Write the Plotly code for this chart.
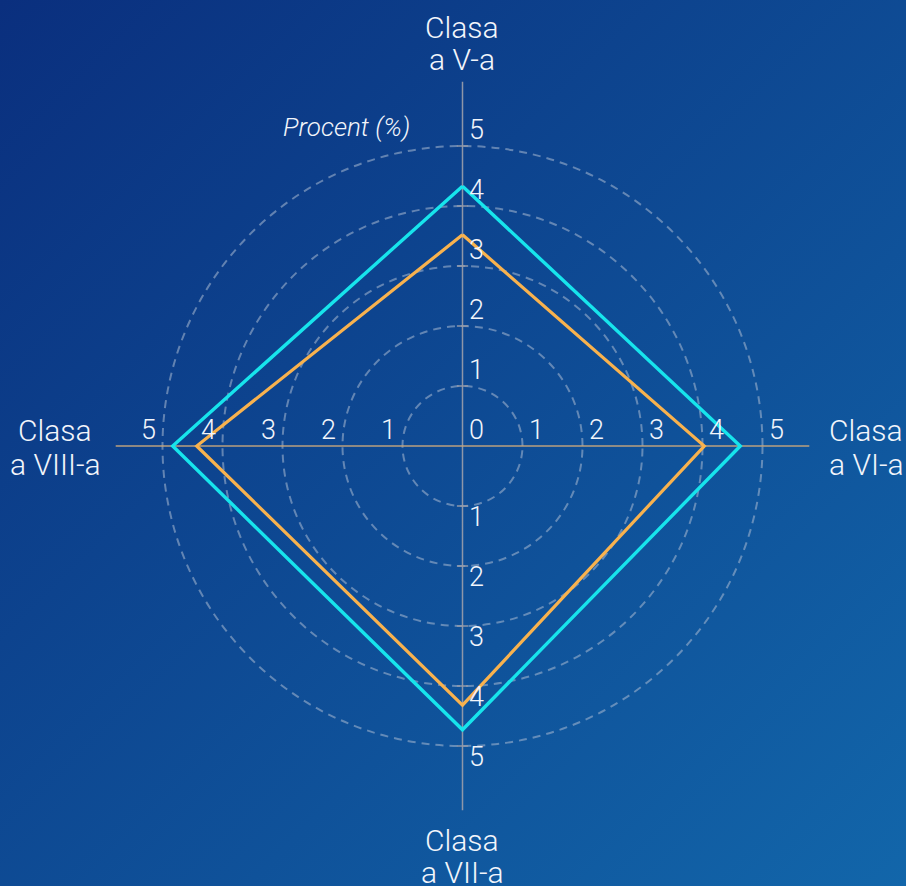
import base64
import plotly.graph_objects as go

# ---------------- data ----------------
categories = ["Clasa a V-a", "Clasa a VI-a", "Clasa a VII-a", "Clasa a VIII-a"]
cat_lines = [["Clasa", "a V-a"], ["Clasa", "a VI-a"], ["Clasa", "a VII-a"], ["Clasa", "a VIII-a"]]
cat_angles = [0, 90, 180, 270]
series_cyan = [4.33, 4.63, 4.73, 4.83]
series_orange = [3.52, 4.03, 4.32, 4.43]
tick_values = [1, 2, 3, 4, 5]
tick_labels = ["1", "2", "3", "4", "5"]

W, H = 906, 886
CX, CY = 462.5, 446.0
RPX = 366.0
RMAX = 6.1

FONT = "Roboto, 'Liberation Sans', Arial, sans-serif"
TXT = "#f2f5fb"
CYAN = "#17e4ec"
ORANGE = "#f8b24e"

fig = go.Figure()

# axis lines (vertical gray, horizontal tan)
fig.add_trace(go.Scatterpolar(r=[6.07, 0, 6.07], theta=[0, 0, 180], mode="lines",
                              line=dict(color="rgba(150,155,170,0.95)", width=1.5),
                              hoverinfo="skip", showlegend=False))
fig.add_trace(go.Scatterpolar(r=[5.78, 0, 5.78], theta=[90, 90, 270], mode="lines",
                              line=dict(color="rgba(196,165,125,0.95)", width=1.5),
                              hoverinfo="skip", showlegend=False))
# small ticks on vertical axis
fig.add_trace(go.Scatterpolar(r=tick_values + tick_values, theta=[0] * 5 + [180] * 5,
                              mode="markers",
                              marker=dict(symbol="line-ew", size=8,
                                          line=dict(color="rgba(150,155,170,0.95)", width=1.5)),
                              hoverinfo="skip", showlegend=False))

# series
def closed(v):
    return v + v[:1]

fig.add_trace(go.Scatterpolar(r=closed(series_cyan), theta=closed(cat_angles), mode="lines",
                              line=dict(color=CYAN, width=3.4), name="Seria 1",
                              showlegend=False))
fig.add_trace(go.Scatterpolar(r=closed(series_orange), theta=closed(cat_angles), mode="lines",
                              line=dict(color=ORANGE, width=3.2), name="Seria 2",
                              showlegend=False))

# tick labels along the four axes
tfont = dict(family=FONT, size=27, color=TXT, weight=300)
right_lbls = [" " + t for t in tick_labels]
left_lbls = [t + " " for t in tick_labels]
for ang, pos, lbls in [(0, "top right", right_lbls), (90, "top right", right_lbls),
                       (180, "bottom right", right_lbls), (270, "top left", left_lbls)]:
    fig.add_trace(go.Scatterpolar(r=tick_values, theta=[ang] * len(tick_values), mode="text",
                                  text=lbls, textposition=pos, textfont=tfont,
                                  hoverinfo="skip", showlegend=False))
fig.add_trace(go.Scatterpolar(r=[0], theta=[0], mode="text", text=[" 0"],
                              textposition="top right", textfont=tfont,
                              hoverinfo="skip", showlegend=False))

# gradient background as svg
svg = f'''<svg xmlns="http://www.w3.org/2000/svg" width="{W}" height="{H}">
<defs><linearGradient id="g" x1="0" y1="0" x2="1" y2="1">
<stop offset="0" stop-color="#0a2f7e"/><stop offset="1" stop-color="#1266aa"/>
</linearGradient></defs><rect width="{W}" height="{H}" fill="url(#g)"/></svg>'''
src = "data:image/svg+xml;base64," + base64.b64encode(svg.encode()).decode()

fig.update_layout(
    width=W, height=H,
    margin=dict(l=0, r=0, t=0, b=0),
    paper_bgcolor="#0e4a96",
    images=[dict(source=src, xref="paper", yref="paper", x=0, y=1, sizex=1, sizey=1,
                 xanchor="left", yanchor="top", sizing="stretch", layer="below")],
    polar=dict(
        domain=dict(x=[(CX - RPX) / W, (CX + RPX) / W],
                    y=[(H - CY - RPX) / H, (H - CY + RPX) / H]),
        bgcolor="rgba(0,0,0,0)",
        radialaxis=dict(range=[0, RMAX], tickvals=tick_values, showticklabels=False,
                        ticks="", showline=False, gridcolor="rgba(170,185,210,0.55)",
                        gridwidth=1.5, griddash="8px,6px"),
        angularaxis=dict(rotation=90, direction="clockwise", showgrid=False, showline=False,
                         showticklabels=False, ticks="", tickvals=cat_angles),
    ),
    font=dict(family=FONT, color=TXT),
)

# category labels
cfont = dict(family=FONT, size=30, color=TXT, weight=300)
label_pos = [(462, 28, 60), (866, 430, 464), (462, 840, 872), (55, 430, 464)]
for lines, (px, y1, y2) in zip(cat_lines, label_pos):
    for txt, py in zip(lines, (y1, y2)):
        fig.add_annotation(text=txt, x=px / W, y=1 - py / H, xref="paper", yref="paper",
                           showarrow=False, xanchor="center", yanchor="middle", font=cfont)

fig.add_annotation(text="<i>Procent (%)</i>", x=412 / W, y=1 - 127 / H, xref="paper",
                   yref="paper", showarrow=False, xanchor="right", yanchor="middle",
                   font=dict(family=FONT, size=26, color=TXT, weight=300))

fig.write_html("out.html", post_script="document.body.style.margin='0';",
               config={"displayModeBar": False})
